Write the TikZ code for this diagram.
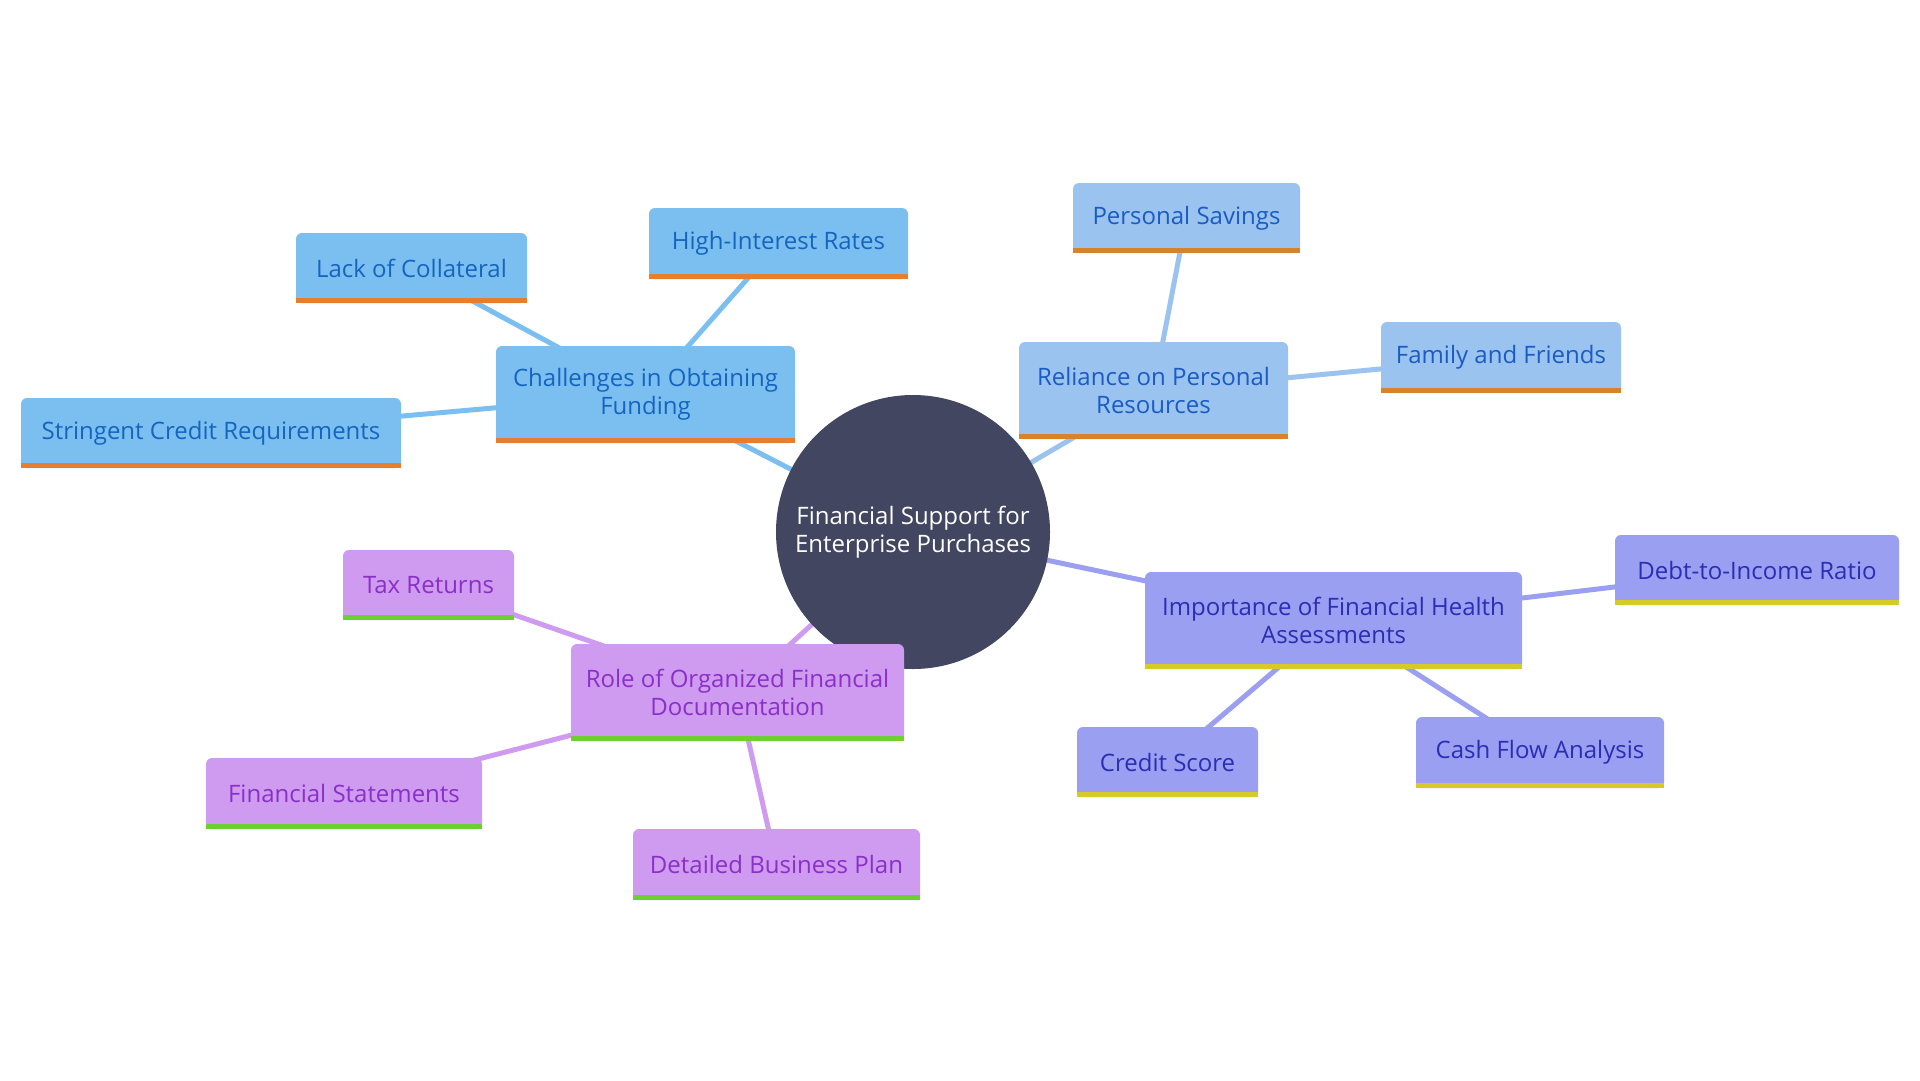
\documentclass[tikz,border=0pt]{standalone}
\usepackage{fontspec}
\setmainfont{Open Sans}
\usetikzlibrary{backgrounds}
\pgfdeclarelayer{bottom}
\pgfsetlayers{bottom,background,main}
\definecolor{cFillA}{HTML}{7BBFF1}
\definecolor{cTextA}{HTML}{1565C0}
\definecolor{cFillB}{HTML}{9BC3EF}
\definecolor{cTextB}{HTML}{1A5BC4}
\definecolor{cFillC}{HTML}{9A9FF1}
\definecolor{cTextC}{HTML}{2A2DB5}
\definecolor{cFillD}{HTML}{CE9BF0}
\definecolor{cTextD}{HTML}{8A2FC8}
\definecolor{cBarA}{HTML}{E67E2E}
\definecolor{cBarB}{HTML}{D4842A}
\definecolor{cBarC}{HTML}{D6CA28}
\definecolor{cBarD}{HTML}{6FCF2F}
\definecolor{cCenter}{HTML}{424660}
\tikzset{
  x=1pt, y=-1pt,
  mapbox/.style={rectangle, rounded corners=6pt, inner sep=0pt, align=center,
    font=\fontsize{24}{28}\selectfont},
  boxA/.style={mapbox, fill=cFillA, text=cTextA},
  boxB/.style={mapbox, fill=cFillB, text=cTextB},
  boxC/.style={mapbox, fill=cFillC, text=cTextC},
  boxD/.style={mapbox, fill=cFillD, text=cTextD},
  linkA/.style={draw=cFillA, line width=5pt},
  linkB/.style={draw=cFillB, line width=5pt},
  linkC/.style={draw=cFillC, line width=5pt},
  linkD/.style={draw=cFillD, line width=5pt},
}
\newcommand{\mapnode}[7]{% style, name, cx, cy, w, h, text
  \node[#1, minimum width=#5pt, minimum height=#6pt] (#2) at (#3,#4) {};
  \node[#1, fill=none] (#2-t) at (#3,#4) {#7};
}
\newcommand{\mapbar}[2]{% name, colour
  \fill[#2] (#1.south west) rectangle ([yshift=5pt]#1.south east);
}
\begin{document}
\begin{tikzpicture}
\begin{pgfonlayer}{bottom}
\fill[white] (0,0) rectangle (1920,1080);
\end{pgfonlayer}
\useasboundingbox (0,0) rectangle (1920,1080);

% center
\node[circle, fill=cCenter, minimum size=274pt, inner sep=0pt, align=center,
  text=white, font=\fontsize{24}{28}\selectfont] (root) at (913,532)
  {Financial Support for\\Enterprise Purchases};

% branch A
\mapnode{boxA}{chal}{645.5}{394.5}{299}{97}{Challenges in Obtaining\\Funding}
\mapnode{boxA}{lack}{411.5}{268}{231}{70}{Lack of Collateral}
\mapnode{boxA}{high}{778.5}{243.5}{259}{71}{High-Interest Rates}
\mapnode{boxA}{strg}{211}{433}{380}{70}{Stringent Credit Requirements}

% branch B
\mapnode{boxB}{reli}{1153.5}{390.5}{269}{97}{Reliance on Personal\\Resources}
\mapnode{boxB}{save}{1186.5}{218}{227}{70}{Personal Savings}
\mapnode{boxB}{fam}{1501}{357.5}{240}{71}{Family and Friends}

% branch C
\mapnode{boxC}{impo}{1333.5}{620.5}{377}{97}{Importance of Financial Health\\Assessments}
\mapnode{boxC}{debt}{1757}{570}{284}{70}{Debt-to-Income Ratio}
\mapnode{boxC}{cred}{1167.5}{762}{181}{70}{Credit Score}
\mapnode{boxC}{cash}{1540}{752.5}{248}{71}{Cash Flow Analysis}

% branch D
\mapnode{boxD}{role}{737.5}{692.5}{333}{97}{Role of Organized Financial\\Documentation}
\mapnode{boxD}{tax}{428.5}{585}{171}{70}{Tax Returns}
\mapnode{boxD}{fins}{344}{793.5}{276}{71}{Financial Statements}
\mapnode{boxD}{plan}{776.5}{864.5}{287}{71}{Detailed Business Plan}

% bars
\mapbar{chal}{cBarA}\mapbar{lack}{cBarA}\mapbar{high}{cBarA}\mapbar{strg}{cBarA}
\mapbar{reli}{cBarB}\mapbar{save}{cBarB}\mapbar{fam}{cBarB}
\mapbar{impo}{cBarC}\mapbar{debt}{cBarC}\mapbar{cred}{cBarC}\mapbar{cash}{cBarC}
\mapbar{role}{cBarD}\mapbar{tax}{cBarD}\mapbar{fins}{cBarD}\mapbar{plan}{cBarD}

% connectors
\begin{pgfonlayer}{background}
\draw[linkA] (root.center) -- (chal.center);
\draw[linkA] (chal.center) -- (lack.center);
\draw[linkA] (chal.center) -- (high.center);
\draw[linkA] (chal.center) -- (strg.center);
\draw[linkB] (root.center) -- (reli.center);
\draw[linkB] (reli.center) -- (save.center);
\draw[linkB] (reli.center) -- (fam.center);
\draw[linkC] (root.center) -- (impo.center);
\draw[linkC] (impo.center) -- (debt.center);
\draw[linkC] (impo.center) -- (cred.center);
\draw[linkC] (impo.center) -- (cash.center);
\draw[linkD] (root.center) -- (role.center);
\draw[linkD] (role.center) -- (tax.center);
\draw[linkD] (role.center) -- (fins.center);
\draw[linkD] (role.center) -- (plan.center);
\end{pgfonlayer}
\end{tikzpicture}
\end{document}
